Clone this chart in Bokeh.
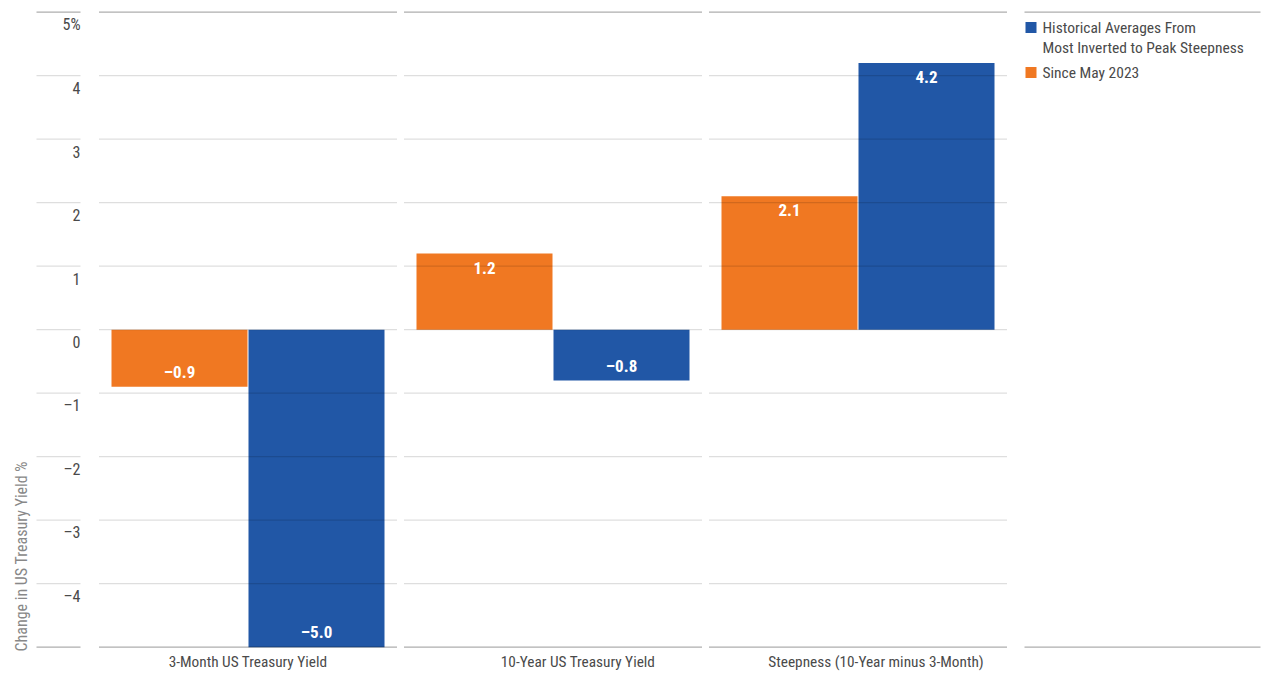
from bokeh.plotting import figure
from bokeh.models import Range1d, ColumnDataSource
from bokeh.core.properties import value
from bokeh.embed import file_html
from bokeh.resources import INLINE

# ---- data ----
categories = ["3-Month US Treasury Yield", "10-Year US Treasury Yield", "Steepness (10-Year minus 3-Month)"]
since_may_2023 = [-0.9, 1.2, 2.1]
historical_avg = [-5.0, -0.8, 4.2]
series_names = ["Historical Averages From\nMost Inverted to Peak Steepness", "Since May 2023"]
y_ticks = [5, 4, 3, 2, 1, 0, -1, -2, -3, -4, -5]
y_tick_labels = ["5%", "4", "3", "2", "1", "0", "–1", "–2", "–3", "–4", ""]
y_title = "Change in US Treasury Yield %"

ORANGE = "#F07822"
BLUE = "#2157A6"
FONT = "'Roboto Condensed', 'DejaVu Sans Condensed', 'Liberation Sans Narrow', Roboto, sans-serif"

ORIGIN = 0  # observed page offset of the canvas
W, H = 1262, 676
X0PX, XSTEP = 247.5, 305.0
Y5PX, YUNIT = 11.7, 63.5


def px2x(p):
    return (p - X0PX) / XSTEP


def py2y(p):
    return 5 - (p - Y5PX) / YUNIT


p = figure(width=W, height=H,
           x_range=Range1d(px2x(ORIGIN), px2x(ORIGIN + W)),
           y_range=Range1d(py2y(ORIGIN + H), py2y(ORIGIN)),
           x_axis_type=None, y_axis_type=None,
           min_border=0, toolbar_location=None, output_backend="svg")
p.grid.visible = False
p.outline_line_color = None
p.background_fill_color = "white"

idx = list(range(len(categories)))
bw = 136 / XSTEP
off = 68.5 / XSTEP

src_o = ColumnDataSource(dict(x=[i - off for i in idx], top=since_may_2023))
src_b = ColumnDataSource(dict(x=[i + off for i in idx], top=historical_avg))
p.vbar(x="x", top="top", bottom=0, width=bw, source=src_o, fill_color=ORANGE, line_color=None)
p.vbar(x="x", top="top", bottom=0, width=bw, source=src_b, fill_color=BLUE, line_color=None)

gx0, gx1, gy, ga = [], [], [], []
half = 149 / XSTEP
for t in y_ticks:
    edge = t in (5, -5)
    alpha = 0.32 if edge else 0.13
    for i in idx:
        gx0.append(i - half); gx1.append(i + half); gy.append(t); ga.append(alpha)
    gx0.append(px2x(36)); gx1.append(px2x(80)); gy.append(t); ga.append(alpha)
    if edge:
        gx0.append(px2x(1024)); gx1.append(px2x(1260)); gy.append(t); ga.append(alpha)
p.segment(x0=gx0, x1=gx1, y0=gy, y1=gy, line_color="black", line_alpha=ga, line_width=1.3)

p.text(x=[px2x(80)] * len(y_ticks), y=y_ticks, text=y_tick_labels,
       text_font=value(FONT), text_font_size="16px", text_color="#4a4a4a",
       text_align="right", text_baseline="middle", y_offset=12.5)

p.text(x=[px2x(21)], y=[py2y(651)], text=[y_title], angle=1.5708,
       text_font=value(FONT), text_font_size="16px", text_color="#888888",
       text_align="left", text_baseline="middle")

p.text(x=idx, y=[-5] * 3, text=categories, x_offset=[0, 25, 18],
       text_font=value(FONT), text_font_size="15.3px", text_color="#4a4a4a",
       text_align="center", text_baseline="middle", y_offset=15)


def lab(v):
    s = f"{abs(v):.1f}"
    return ("–" + s) if v < 0 else s


for src, vals in ((src_o, since_may_2023), (src_b, historical_avg)):
    p.text(x=src.data["x"], y=vals, text=[lab(v) for v in vals],
           y_offset=[14 if v > 0 else -15 for v in vals],
           text_font=value(FONT), text_font_size="17px", text_font_style="bold",
           text_color="white", text_align="center", text_baseline="middle")

p.rect(x=[px2x(1030.5)] * 2, y=[py2y(27), py2y(72)], width=11, height=11,
       width_units="screen", height_units="screen",
       fill_color=[BLUE, ORANGE], line_color=None)
p.text(x=[px2x(1042)] * 2, y=[py2y(37.5), py2y(72)], text=series_names,
       text_font=value(FONT), text_font_size="15.5px", text_color="#4a4a4a",
       text_align="left", text_baseline="middle", text_line_height=1.15)

open("out.html", "w").write(file_html(p, INLINE))
